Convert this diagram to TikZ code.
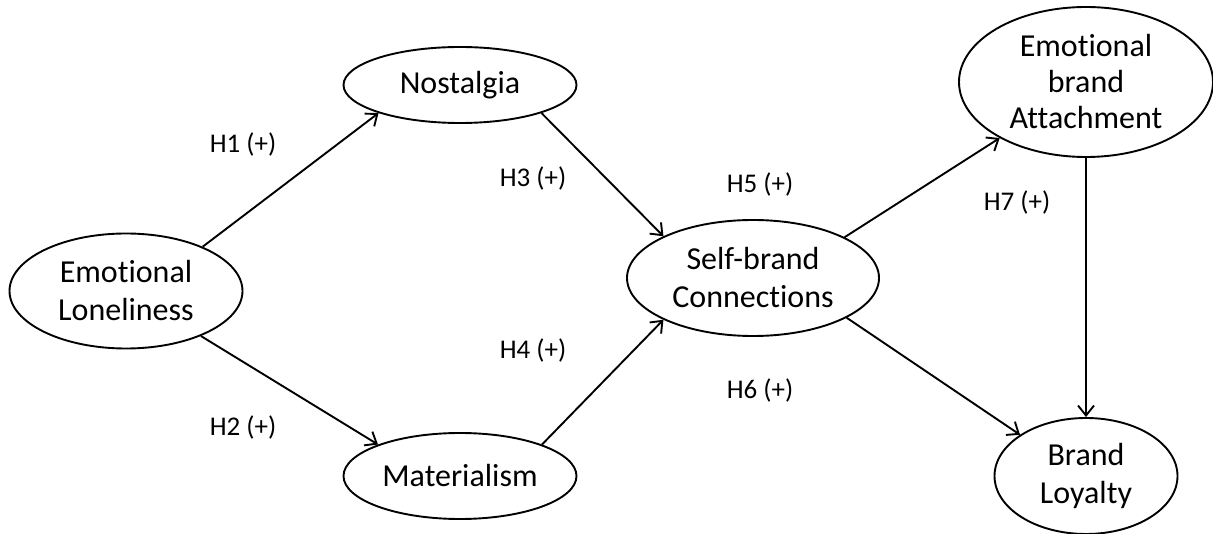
\documentclass[tikz,border=0pt]{standalone}
\usepackage{fontspec}
\setmainfont{Carlito}[Ligatures=NoCommon]
\usetikzlibrary{arrows.meta, positioning, shapes.geometric}

\begin{document}
\begin{tikzpicture}[x=1pt, y=-1pt, >={Straight Barb[length=10pt, width=16pt]}, line width=1.9pt,
    construct/.style={draw, ellipse, inner sep=0pt, align=center, font=\fontsize{32}{38}\selectfont},
    hyp/.style={font=\fontsize{27}{32}\selectfont}]
    \useasboundingbox (0,0) rectangle (1213,534);
    \node[construct, minimum width=233pt, minimum height=115pt] (lonely) at (126,291) {Emotional\\Loneliness};
    \node[construct, minimum width=233pt, minimum height=76pt] (nostalgia) at (460,85) {Nostalgia};
    \node[construct, minimum width=233pt, minimum height=86pt] (material) at (460,476) {Materialism};
    \node[construct, minimum width=252pt, minimum height=116pt] (selfbrand) at (753,278) {Self-brand\\Connections};
    \node[construct, minimum width=254pt, minimum height=150pt, font=\fontsize{32}{36}\selectfont] (attach) at (1086,82) {Emotional\\brand\\Attachment};
    \node[construct, minimum width=183pt, minimum height=116pt] (loyal) at (1086,476) {Brand\\Loyalty};

    \node[hyp] (h1) at (243,145) {H1 (+)};
    \node[hyp] (h2) at (243,427) {H2 (+)};
    \node[hyp] (h3) at (533,179) {H3 (+)};
    \node[hyp] (h4) at (533,350) {H4 (+)};
    \node[hyp] (h5) at (760,185) {H5 (+)};
    \node[hyp] (h6) at (760,390) {H6 (+)};
    \node[hyp] (h7) at (1017,202) {H7 (+)};

    \draw[->] (lonely.30) -- (nostalgia.199);
    \draw[->] (lonely.-31) -- (material.159);
    \draw[->] (nostalgia.-19) -- (selfbrand.155);
    \draw[->] (material.21) -- (selfbrand.205);
    \draw[->] (selfbrand.24) -- (attach.213);
    \draw[->] (selfbrand.-23) -- (loyal.148);
    \draw[->] (attach) -- (loyal);
\end{tikzpicture}
\end{document}
